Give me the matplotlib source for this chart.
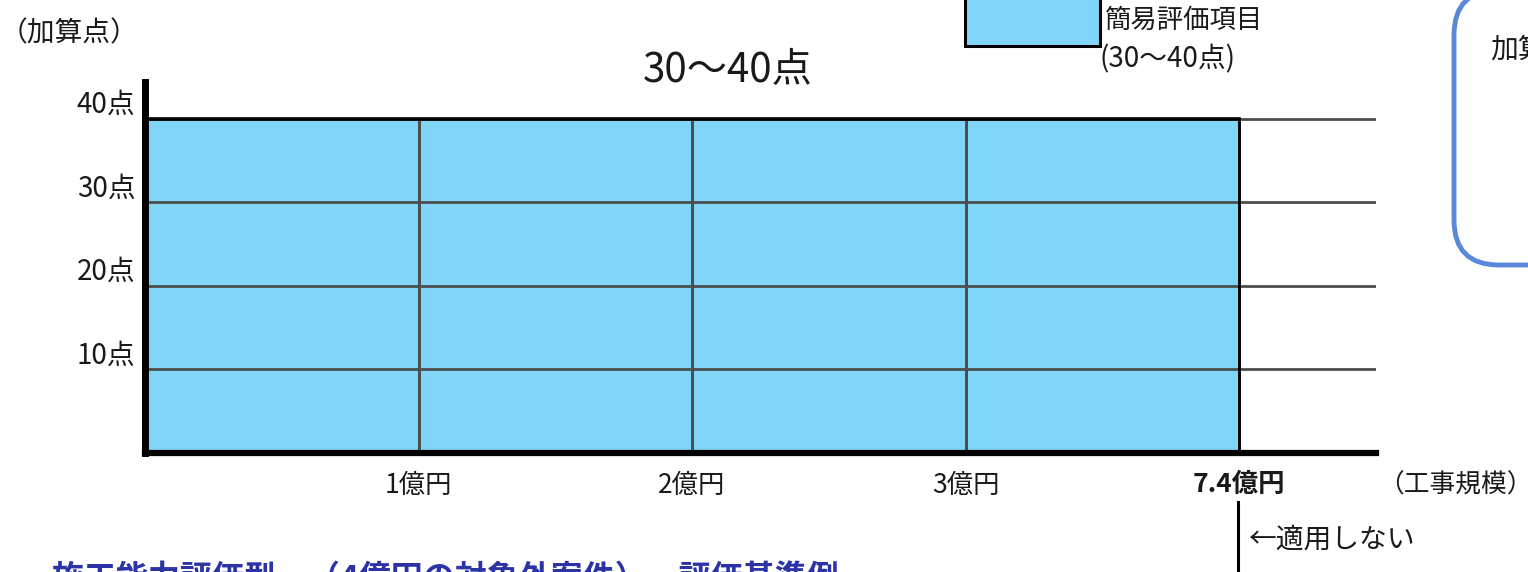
import matplotlib
matplotlib.use("Agg")
import matplotlib.pyplot as plt
from matplotlib.patches import FancyBboxPatch, Rectangle

plt.rcParams['font.family'] = ['Noto Sans CJK JP', 'DejaVu Sans']

# data
scale_pos = [1, 2, 3, 4]
scale_labels = ["1億円", "2億円", "3億円", "7.4億円"]
point_ticks = [10, 20, 30, 40]
point_labels = ["10点", "20点", "30点", "40点"]
band_left = [0, 1, 2, 3]
band_height = [40, 40, 40, 40]
max_points = 40

fill_color = "#81D6F7"
grid_color = "#4d4d4d"
txt = "#1a1a1a"

W, H = 1528, 572
fig = plt.figure(figsize=(W / 100, H / 100), dpi=100)

# overlay in pixel coordinates for the loose annotations
ov = fig.add_axes([0, 0, 1, 1])
ov.set_xlim(0, W)
ov.set_ylim(H, 0)
ov.axis("off")

# axes placed in pixel terms of the original
x0, x1 = 145, 1376
y_top, y_bot = 82, 453
ax = fig.add_axes([x0 / W, 1 - y_bot / H, (x1 - x0) / W, (y_bot - y_top) / H])
ax.set_xlim(0, 4.5)
ax.set_ylim(0, 44.4)
ax.patch.set_alpha(0)

ax.bar(band_left, band_height, width=1, align='edge', color=fill_color,
       edgecolor=grid_color, linewidth=2, zorder=2)

# grid lines across the full width, drawn over the fill
for t in point_ticks:
    ax.axhline(t, color=grid_color, lw=2, zorder=3)
for p in scale_pos[:-1]:
    ax.plot([p, p], [0, max_points], color=grid_color, lw=2, zorder=3)
ax.plot([0, scale_pos[-1]], [max_points, max_points], color="black", lw=2.6, zorder=4)
ax.plot([scale_pos[-1], scale_pos[-1]], [0, max_points], color="black", lw=2, zorder=4)

for s in ["top", "right"]:
    ax.spines[s].set_visible(False)
ax.spines["left"].set_linewidth(5)
ax.spines["bottom"].set_linewidth(4.5)
ax.spines["left"].set_zorder(5)
ax.spines["bottom"].set_zorder(5)
ax.set_xticks([])
ax.set_yticks([])

# y labels sit a bit above each line
for t, lab in zip(point_ticks, point_labels):
    ax.annotate(lab, (0, t), xytext=(-7, 10), textcoords="offset points",
                ha="right", va="center", fontsize=20, color=txt,
                annotation_clip=False)

# x labels
for p, lab in zip(scale_pos, scale_labels):
    bold = lab == scale_labels[-1]
    ax.annotate(lab, (p, 0), xytext=(0, -23), textcoords="offset points",
                ha="center", va="center", fontsize=19,
                fontweight="bold" if bold else "normal", color=txt,
                annotation_clip=False)

# line below 7.4億円 marking the limit
ov.plot([1238, 1238], [502, H], color="black", lw=2.2)
ov.text(1248, 540, "←適用しない", fontsize=20, va="center", ha="left", color=txt)

ov.text(1378, 486, "（工事規模）", fontsize=18.5, va="center", ha="left", color=txt)
ov.text(0, 33, "（加算点）", fontsize=20, va="center", ha="left", color=txt)
ov.text(728, 71, "30〜40点", fontsize=29, va="center", ha="center", color=txt)

# legend
ov.add_patch(Rectangle((965, -20), 135, 66, facecolor=fill_color,
                       edgecolor="black", lw=2.2))
ov.text(1105, 20, "簡易評価項目", fontsize=19, va="center", ha="left", color=txt)
ov.text(1100, 59, "(30〜40点)", fontsize=20, va="center", ha="left", color=txt)

# rounded callout cut off at the right edge
ov.add_patch(FancyBboxPatch((1454, -10), 200, 275,
                            boxstyle="round,pad=0,rounding_size=45",
                            facecolor="white", edgecolor="#5b87dc", lw=3.5))
ov.text(1490, 50, "加算点", fontsize=20, va="center", ha="left", color=txt)

# heading of the next section, mostly off the bottom
ov.text(52, 564, "施工能力評価型　（4億円の対象外案件）　評価基準例",
        fontsize=23, fontweight="bold", color="#2b33a6", va="top", ha="left")

fig.savefig("out.png", dpi=100)
